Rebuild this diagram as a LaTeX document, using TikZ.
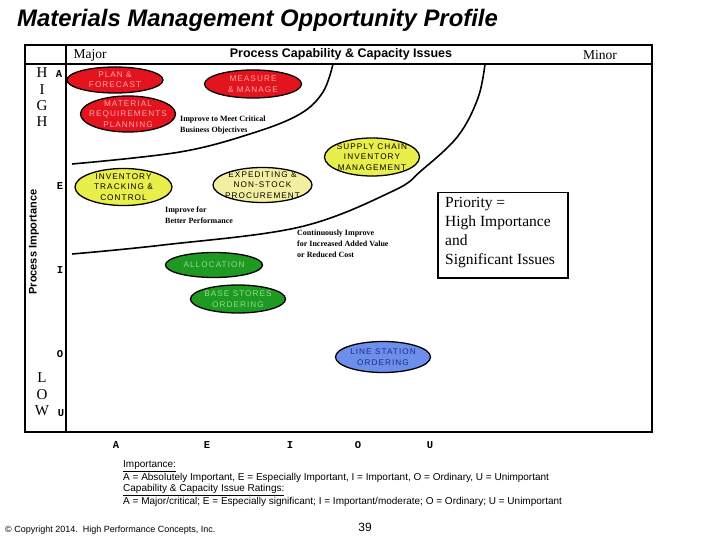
\documentclass[tikz,border=0pt]{standalone}
\usepackage{fontspec}
\setmainfont{Liberation Serif}
\setsansfont{Liberation Sans}
\setmonofont{Liberation Mono}
\usetikzlibrary{shapes.geometric}
\definecolor{redfill}{HTML}{E3141E}
\definecolor{redtext}{HTML}{FFA6A6}
\definecolor{yelfill}{HTML}{E8EE4A}
\definecolor{paleyel}{HTML}{F2F0A0}
\definecolor{grnfill}{HTML}{1E9A22}
\definecolor{grntext}{HTML}{8FDC8F}
\definecolor{blufill}{HTML}{6D8EEA}
\definecolor{blutext}{HTML}{1B2F8A}
\begin{document}
\begin{tikzpicture}[x=1pt,y=-1pt,
  bub/.style={ellipse, draw=black, line width=1.3pt, inner sep=0pt, fill=#1},
  btext/.style={align=center, inner sep=0pt, text=#1,
    font=\sffamily\fontsize{8.2}{10.4}\selectfont\addfontfeature{LetterSpace=13}},
  frame/.style={line width=2pt, draw=black},
  curve/.style={line width=1.6pt, draw=black},
  rowlet/.style={font=\fontsize{15}{15}\selectfont, inner sep=0pt},
  axlet/.style={font=\ttfamily\bfseries\fontsize{10.5}{10.5}\selectfont, inner sep=0pt},
  note/.style={font=\bfseries\fontsize{8}{11}\selectfont, align=left, inner sep=0pt, anchor=north west},
  legend/.style={font=\sffamily\fontsize{10}{12}\selectfont, inner sep=0pt, anchor=west}
]
\useasboundingbox (0,0) rectangle (720,540);
% title
\node[anchor=west, inner sep=0pt, font=\sffamily\bfseries\itshape\fontsize{23.9}{24}\selectfont] (title) at (17,20.5) {Materials Management Opportunity Profile};
% frame
\draw[frame] (25,45) rectangle (652,432);
\draw[frame] (25,64) -- (652,64);
\draw[frame] (66,45) -- (66,432);
% header
\node[inner sep=0pt, font=\fontsize{13.5}{14}\selectfont] (major) at (90,55) {Major};
\node[inner sep=0pt, font=\sffamily\bfseries\fontsize{12.5}{14}\selectfont] (head) at (341,54) {Process Capability \& Capacity Issues};
\node[inner sep=0pt, font=\fontsize{13.5}{14}\selectfont] (minor) at (600,55) {Minor};
% row labels
\node[rowlet] (h1) at (42,73) {H};
\node[rowlet] (i1) at (42,89.5) {I};
\node[rowlet] (g1) at (42,106) {G};
\node[rowlet] (h2) at (42,122) {H};
\node[rowlet] (l1) at (42,378) {L};
\node[rowlet] (o1) at (42,395) {O};
\node[rowlet] (w1) at (42,411) {W};
\node[rotate=90, inner sep=0pt, font=\sffamily\bfseries\fontsize{11}{11}\selectfont] (pimp) at (34,242) {Process Importance};
% importance letters
\node[axlet] (ra) at (59,74) {A};
\node[axlet] (re) at (60,186) {E};
\node[axlet] (ri) at (60,270) {I};
\node[axlet] (ro) at (60,354) {O};
\node[axlet] (ru) at (61,413) {U};
% capability letters
\node[axlet] (ca) at (116,445) {A};
\node[axlet] (ce) at (207,445) {E};
\node[axlet] (ci) at (290,445) {I};
\node[axlet] (co) at (358,445) {O};
\node[axlet] (cu) at (430,445) {U};
% bubbles
\node[bub=redfill, minimum width=96pt, minimum height=26pt] (plan) at (115,80) {};
\node[btext=redtext] at (plan) {PLAN \&\\FORECAST};
\node[bub=redfill, minimum width=97pt, minimum height=28pt] (meas) at (253,84) {};
\node[btext=redtext] at (meas) {MEASURE\\\& MANAGE};
\node[bub=redfill, minimum width=95pt, minimum height=36pt] (mrp) at (128,114) {};
\node[btext=redtext] at (mrp) {MATERIAL\\REQUIREMENTS\\PLANNING};
\node[bub=yelfill, minimum width=97pt, minimum height=37pt] (itc) at (123.5,187) {};
\node[btext=black] at (itc) {INVENTORY\\TRACKING \&\\CONTROL};
\node[bub=paleyel, minimum width=99pt, minimum height=35pt] (exp) at (262.5,185) {};
\node[btext=black] at (exp) {EXPEDITING \&\\NON-STOCK\\PROCUREMENT};
\node[bub=yelfill, minimum width=95pt, minimum height=38pt] (scim) at (372,157) {};
\node[btext=black] at (scim) {SUPPLY CHAIN\\INVENTORY\\MANAGEMENT};
\node[bub=grnfill, minimum width=97pt, minimum height=25pt] (alloc) at (214,265) {};
\node[btext=grntext] at (alloc) {ALLOCATION};
\node[bub=grnfill, minimum width=95pt, minimum height=28pt] (bso) at (238,299) {};
\node[btext=grntext] at (bso) {BASE STORES\\ORDERING};
\node[bub=blufill, minimum width=95pt, minimum height=31pt] (lso) at (383,357) {};
\node[btext=blutext] at (lso) {LINE STATION\\ORDERING};
% notes
\node[note] (n1) at (180,116) {Improve to Meet Critical\\Business Objectives};
\node[note] (n2) at (165,207) {Improve for\\Better Performance};
\node[note] (n3) at (297,230) {Continuously Improve\\for Increased Added Value\\or Reduced Cost};
% curves
\draw[curve] plot[smooth, tension=0.6] coordinates {(72,164) (180,152) (253,133) (300,114) (323,92) (333,64)};
\draw[curve] plot[smooth, tension=0.6] coordinates {(72,254) (163,245) (300,227) (393,191) (422,170) (458,136) (478,98) (485,64)};
% priority box
\node[draw=black, line width=1.5pt, anchor=north west, minimum width=130pt, minimum height=85pt, inner sep=0pt] (pbox) at (437,192) {};
\node[anchor=north west, align=left, inner sep=0pt, font=\fontsize{15.5}{19}\selectfont] (ptext) at (445,197) {Priority =\\High Importance\\and\\Significant Issues};
% legend
\node[legend] (lg1) at (123,466) {\underline{Importance:}};
\node[legend] (lg2) at (123,478) {A = Absolutely Important, E = Especially Important, I = Important, O = Ordinary, U = Unimportant};
\node[legend] (lg3) at (123,490) {\underline{Capability \& Capacity Issue Ratings:}};
\node[legend] (lg4) at (123,502) {A = Major/critical; E = Especially significant; I = Important/moderate; O = Ordinary; U = Unimportant};
\node[anchor=west, inner sep=0pt, font=\sffamily\fontsize{9}{10}\selectfont] (copy) at (5,530) {© Copyright 2014.\ \ High Performance Concepts, Inc.};
\node[inner sep=0pt, font=\sffamily\fontsize{12}{12}\selectfont] (pg) at (365,527) {39};
\end{tikzpicture}
\end{document}
